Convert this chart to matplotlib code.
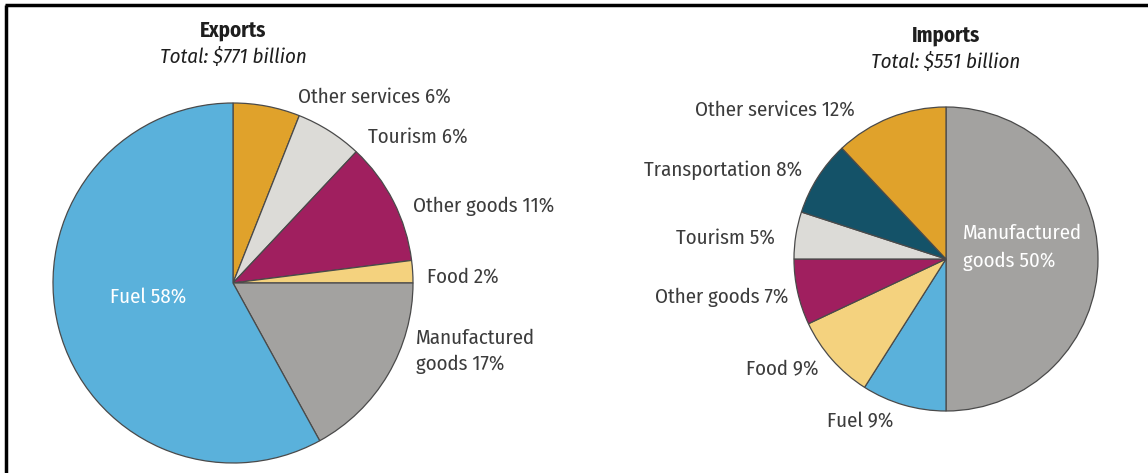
import matplotlib
matplotlib.use("Agg")
import matplotlib.pyplot as plt

# share of exports / imports by category, percent
exp_names = ["Other services", "Tourism", "Other goods", "Food", "Manufactured\ngoods", "Fuel"]
exp_vals = [6, 6, 11, 2, 17, 58]
exp_cols = ["#E0A22B", "#DCDBD7", "#A01F5F", "#F4D27E", "#A3A2A0", "#5AB1DB"]

imp_names = ["Manufactured\ngoods", "Fuel", "Food", "Other goods", "Tourism", "Transportation", "Other services"]
imp_vals = [50, 9, 9, 7, 5, 8, 12]
imp_cols = ["#A3A2A0", "#5AB1DB", "#F4D27E", "#A01F5F", "#DCDBD7", "#145268", "#E0A22B"]

exp_total = 771
imp_total = 551

W, H = 1148, 473
plt.rcParams["font.family"] = ["Fira Sans Condensed", "DejaVu Sans"]
plt.rcParams["font.stretch"] = "condensed"

fig = plt.figure(figsize=(W / 100, H / 100), dpi=100)
ax = fig.add_axes([0, 0, 1, 1])

def T(y):
    # pixel row (from top) -> data y
    return H - y

wp = dict(edgecolor="#4a4a4a", linewidth=0.9)
ax.pie(exp_vals, colors=exp_cols, startangle=90, counterclock=False,
       center=(233, T(283)), radius=180, wedgeprops=wp, frame=True)
ax.pie(imp_vals, colors=imp_cols, startangle=90, counterclock=False,
       center=(946, T(259)), radius=152, wedgeprops=wp, frame=True)
ax.set_xlim(0, W)
ax.set_ylim(0, H)
ax.set_aspect("equal")
ax.axis("off")

tc = "#3c3c3c"
fs = 15

# titles
ax.text(233, T(30), "Exports", ha="center", va="center", fontsize=fs, fontweight="bold", color="#1e1e1e")
ax.text(233, T(57), f"Total: ${exp_total} billion", ha="center", va="center", fontsize=fs,
        style="italic", color="#1e1e1e")
ax.text(946, T(35), "Imports", ha="center", va="center", fontsize=fs, fontweight="bold", color="#1e1e1e")
ax.text(946, T(62), f"Total: ${imp_total} billion", ha="center", va="center", fontsize=fs,
        style="italic", color="#1e1e1e")

def lab(name, v):
    return f"{name} {v}%"

# exports labels
exp_pos = [(298, 97, "left"), (368, 137, "left"), (413, 206, "left"),
           (427, 277, "left"), (416, 351, "left"), (110, 297, "left")]
for i, (n, v) in enumerate(zip(exp_names, exp_vals)):
    x, y, ha = exp_pos[i]
    c = "white" if n == "Fuel" else tc
    ax.text(x, T(y), lab(n, v), ha=ha, va="center", fontsize=fs, color=c, linespacing=1.4)

# imports labels
imp_pos = [(963, 247, "left"), (893, 422, "right"), (819, 370, "right"), (788, 297, "right"),
           (775, 238, "right"), (802, 170, "right"), (855, 110, "right")]
for i, (n, v) in enumerate(zip(imp_names, imp_vals)):
    x, y, ha = imp_pos[i]
    c = "white" if i == 0 else tc
    ax.text(x, T(y), lab(n, v), ha=ha, va="center", fontsize=fs, color=c, linespacing=1.55)

# frame on left and top
ax.plot([6, 6], [0, T(5)], color="black", lw=2.5, solid_capstyle="butt")
ax.plot([5, W], [T(5), T(5)], color="black", lw=2.5, solid_capstyle="butt")

fig.savefig("out.png", dpi=100)
